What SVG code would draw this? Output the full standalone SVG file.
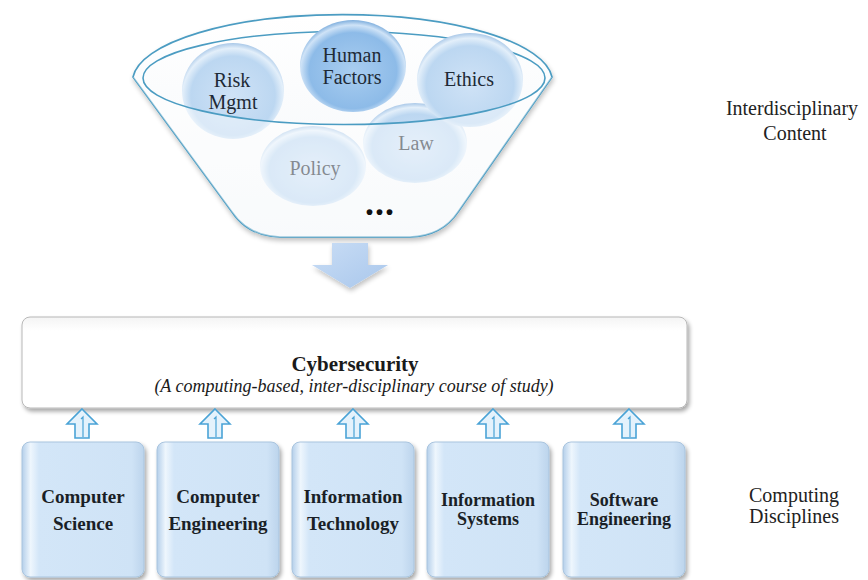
<svg xmlns="http://www.w3.org/2000/svg" width="868" height="580" viewBox="0 0 868 580">
<defs>
<style>
.bub{font-size:20px;fill:#1e2a36;text-anchor:middle;}
.disc{font-size:19px;font-weight:bold;fill:#1a1f26;text-anchor:middle;}
.disc2{font-size:18px;font-weight:bold;fill:#1a1f26;text-anchor:middle;}
.side{font-size:20px;fill:#222;text-anchor:middle;}
.box{fill:url(#boxg);stroke:#a9c4de;stroke-width:1;filter:url(#sh);}
.uparrow{fill:#e4f2fc;stroke:#4aa3d6;stroke-width:1.6;stroke-linejoin:miter;}
.upinner{fill:none;stroke:#4aa3d6;stroke-width:1.2;}
.rim{fill:none;stroke:#4b9cc2;stroke-width:1.6;}
</style>
<filter id="sh" x="-10%" y="-10%" width="125%" height="125%">
<feGaussianBlur in="SourceAlpha" stdDeviation="2"/>
<feOffset dx="2" dy="3" result="o"/>
<feComponentTransfer><feFuncA type="linear" slope="0.35"/></feComponentTransfer>
<feMerge><feMergeNode/><feMergeNode in="SourceGraphic"/></feMerge>
</filter>
<filter id="soft" x="-10%" y="-10%" width="125%" height="125%">
<feGaussianBlur in="SourceAlpha" stdDeviation="2.5"/>
<feOffset dx="1" dy="3"/>
<feComponentTransfer><feFuncA type="linear" slope="0.25"/></feComponentTransfer>
<feMerge><feMergeNode/><feMergeNode in="SourceGraphic"/></feMerge>
</filter>
<linearGradient id="boxg" x1="0" y1="0" x2="1" y2="0">
<stop offset="0" stop-color="#b4cfea"/>
<stop offset="0.07" stop-color="#eef6fd"/>
<stop offset="0.14" stop-color="#d3e6f8"/>
<stop offset="0.9" stop-color="#cfe3f6"/>
<stop offset="1" stop-color="#bcd4ec"/>
</linearGradient>
<linearGradient id="cyg" x1="0" y1="0" x2="0" y2="1">
<stop offset="0" stop-color="#f4f4f4"/>
<stop offset="0.15" stop-color="#ffffff"/>
<stop offset="1" stop-color="#ffffff"/>
</linearGradient>
<radialGradient id="bubA" cx="0.5" cy="0.55" r="0.55">
<stop offset="0" stop-color="#cfe2f6"/>
<stop offset="0.75" stop-color="#bcd7f1"/>
<stop offset="0.9" stop-color="#e3effa"/>
<stop offset="1" stop-color="#a9c8e8"/>
</radialGradient>
<radialGradient id="bubH" cx="0.5" cy="0.55" r="0.55">
<stop offset="0" stop-color="#a9cdf0"/>
<stop offset="0.75" stop-color="#8dbbe8"/>
<stop offset="0.9" stop-color="#cfe3f7"/>
<stop offset="1" stop-color="#7eaedd"/>
</radialGradient>
<linearGradient id="dng" x1="0" y1="0" x2="1" y2="1">
<stop offset="0" stop-color="#c9ddf5"/>
<stop offset="1" stop-color="#a9c7ec"/>
</linearGradient>
<linearGradient id="fung" x1="0" y1="0" x2="0" y2="1">
<stop offset="0" stop-color="#ffffff"/>
<stop offset="1" stop-color="#f3f6f9"/>
</linearGradient>
</defs>
<rect width="868" height="580" fill="#ffffff"/>

<g font-family="Liberation Serif, Times New Roman, serif">
<g id="funnel">
<path d="M133,77 A210,67 0 0 1 552,77 L458,212 Q442,236 410,237 L280,237 Q248,236 232,212 Z" fill="url(#fung)" stroke="#4b9cc2" stroke-width="1.6" filter="url(#soft)"/>
<path d="M143,78 A201,46.5 0 0 1 545,78" class="rim"/>
</g>

<g id="node-policy">
<ellipse cx="313" cy="166" rx="53" ry="40" fill="url(#bubA)"/>
<text class="bub" x="315" y="175">Policy</text>
</g>
<g id="node-law">
<ellipse cx="415" cy="143" rx="52" ry="40" fill="url(#bubA)"/>
<text class="bub" x="416" y="150">Law</text>
</g>
<g id="node-risk">
<ellipse cx="233" cy="91" rx="51" ry="48" fill="url(#bubA)"/>
<text class="bub" x="232" y="87">Risk</text>
<text class="bub" x="233" y="109">Mgmt</text>
</g>
<g id="node-ethics">
<ellipse cx="470" cy="80" rx="53" ry="47" fill="url(#bubA)"/>
<text class="bub" x="469" y="86">Ethics</text>
</g>
<g id="node-human">
<ellipse cx="353" cy="66" rx="53" ry="46" fill="url(#bubH)"/>
<text class="bub" x="352" y="62">Human</text>
<text class="bub" x="352" y="84">Factors</text>
</g>

<g id="funnel-front">
<path d="M143,78 A201,46.5 0 0 0 545,78 L552,77 L458,212 Q442,236 410,237 L280,237 Q248,236 232,212 L133,77 Z" fill="#ffffff" fill-opacity="0.45"/>
<path d="M143,78 A201,46.5 0 0 0 545,78" class="rim"/>
<text x="380" y="215" font-size="36" font-weight="bold" fill="#111" text-anchor="middle" letter-spacing="1">...</text>
</g>

<g id="node-cybersecurity">
<rect x="22" y="317" width="665" height="91" rx="8" fill="url(#cyg)" stroke="#b8b8b8" stroke-width="1" filter="url(#sh)"/>
<text x="355" y="371" font-size="21" font-weight="bold" fill="#1a1a1a" text-anchor="middle">Cybersecurity</text>
<text x="354" y="392" font-size="18" font-style="italic" fill="#1a1a1a" text-anchor="middle">(A computing-based, inter-disciplinary course of study)</text>
</g>

<g id="node-cs">
<rect class="box" x="22" y="442" width="122" height="135" rx="8"/>
<text class="disc" x="83" y="503">Computer</text>
<text class="disc" x="83" y="530">Science</text>
</g>
<g id="node-ce">
<rect class="box" x="157" y="442" width="122" height="135" rx="8"/>
<text class="disc" x="218" y="503">Computer</text>
<text class="disc" x="218" y="530">Engineering</text>
</g>
<g id="node-it">
<rect class="box" x="292" y="442" width="122" height="135" rx="8"/>
<text class="disc" x="353" y="503">Information</text>
<text class="disc" x="353" y="530">Technology</text>
</g>
<g id="node-is">
<rect class="box" x="427" y="442" width="122" height="135" rx="8"/>
<text class="disc2" x="488" y="506">Information</text>
<text class="disc2" x="488" y="525">Systems</text>
</g>
<g id="node-se">
<rect class="box" x="563" y="442" width="122" height="135" rx="8"/>
<text class="disc2" x="624" y="506">Software</text>
<text class="disc2" x="624" y="525">Engineering</text>
</g>

<g id="label-interdisciplinary">
<text class="side" x="792" y="115">Interdisciplinary</text>
<text class="side" x="795" y="140">Content</text>
</g>
<g id="label-computing">
<text class="side" x="794" y="502">Computing</text>
<text class="side" x="794" y="523">Disciplines</text>
</g>
</g>

<g id="connectors">
<path d="M332,243 L368,243 L368,265 L388,265 L350,288 L312,265 L332,265 Z" fill="url(#dng)" filter="url(#soft)"/>
<g transform="translate(82,409)"><path class="uparrow" d="M0,0 L15,15 L7,15 L7,29 L-7,29 L-7,15 L-15,15 Z"/><path class="upinner" d="M-1,10 L1,8 L1,28"/></g>
<g transform="translate(215,409)"><path class="uparrow" d="M0,0 L15,15 L7,15 L7,29 L-7,29 L-7,15 L-15,15 Z"/><path class="upinner" d="M-1,10 L1,8 L1,28"/></g>
<g transform="translate(353,409)"><path class="uparrow" d="M0,0 L15,15 L7,15 L7,29 L-7,29 L-7,15 L-15,15 Z"/><path class="upinner" d="M-1,10 L1,8 L1,28"/></g>
<g transform="translate(493,409)"><path class="uparrow" d="M0,0 L15,15 L7,15 L7,29 L-7,29 L-7,15 L-15,15 Z"/><path class="upinner" d="M-1,10 L1,8 L1,28"/></g>
<g transform="translate(629,409)"><path class="uparrow" d="M0,0 L15,15 L7,15 L7,29 L-7,29 L-7,15 L-15,15 Z"/><path class="upinner" d="M-1,10 L1,8 L1,28"/></g>
</g>
</svg>
